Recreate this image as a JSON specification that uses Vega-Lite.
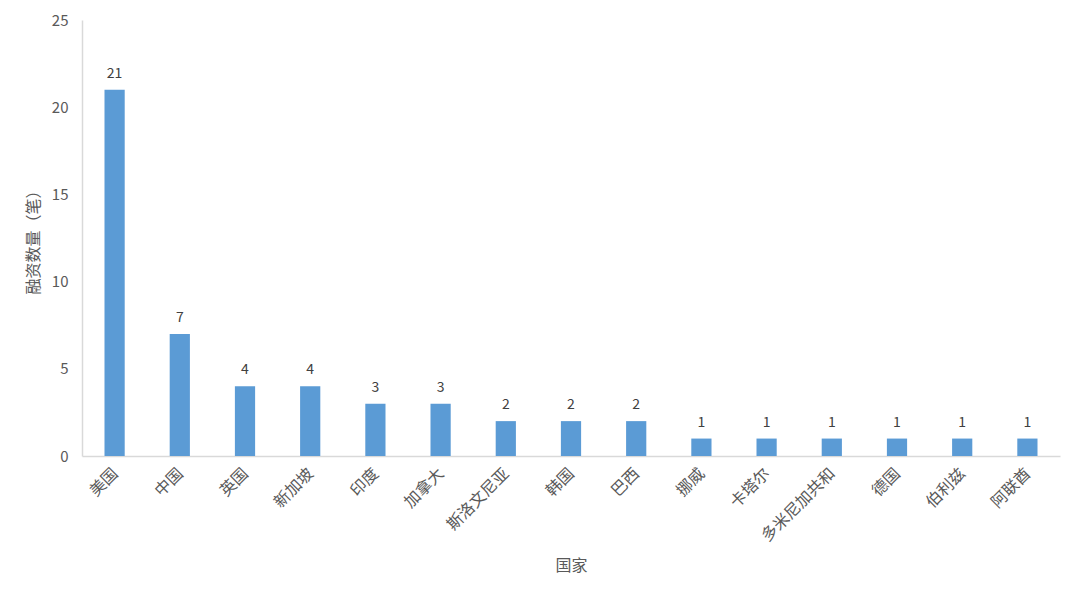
{
  "$schema": "https://vega.github.io/schema/vega-lite/v6.json",
  "width": 978,
  "height": 436,
  "autosize": {"type": "none"},
  "padding": {"left": 82, "top": 20, "right": 20, "bottom": 144},
  "background": "white",
  "config": {
    "font": "Noto Sans CJK SC",
    "view": {"stroke": null}
  },
  "data": {
    "values": [
      {"country": "美国", "count": 21},
      {"country": "中国", "count": 7},
      {"country": "英国", "count": 4},
      {"country": "新加坡", "count": 4},
      {"country": "印度", "count": 3},
      {"country": "加拿大", "count": 3},
      {"country": "斯洛文尼亚", "count": 2},
      {"country": "韩国", "count": 2},
      {"country": "巴西", "count": 2},
      {"country": "挪威", "count": 1},
      {"country": "卡塔尔", "count": 1},
      {"country": "多米尼加共和", "count": 1},
      {"country": "德国", "count": 1},
      {"country": "伯利兹", "count": 1},
      {"country": "阿联酋", "count": 1}
    ]
  },
  "encoding": {
    "x": {
      "field": "country",
      "type": "nominal",
      "sort": null,
      "scale": {"paddingInner": 0.69, "paddingOuter": 0.345},
      "axis": {
        "title": "国家",
        "titleFontSize": 16,
        "titleFontWeight": "normal",
        "titleColor": "#595959",
        "titleY": 101,
        "labelAngle": -45,
        "labelFontSize": 16,
        "labelColor": "#595959",
        "labelPadding": 9,
        "labelOffset": -5,
        "ticks": false,
        "domainColor": "#D9D9D9",
        "domainWidth": 1.5,
        "grid": false
      }
    },
    "y": {
      "field": "count",
      "type": "quantitative",
      "scale": {"domain": [0, 25], "nice": false},
      "axis": {
        "title": "融资数量（笔）",
        "titleFontSize": 16,
        "titleFontWeight": "normal",
        "titleColor": "#595959",
        "titleX": -41,
        "values": [0, 5, 10, 15, 20, 25],
        "labelFontSize": 15,
        "labelColor": "#595959",
        "labelPadding": 14,
        "ticks": false,
        "domainColor": "#D9D9D9",
        "domainWidth": 1.5,
        "grid": false
      }
    }
  },
  "layer": [
    {"mark": {"type": "bar", "color": "#5B9BD5"}},
    {
      "mark": {"type": "text", "baseline": "bottom", "dy": -9, "fontSize": 14, "color": "#404040"},
      "encoding": {"text": {"field": "count", "type": "quantitative"}}
    }
  ]
}
